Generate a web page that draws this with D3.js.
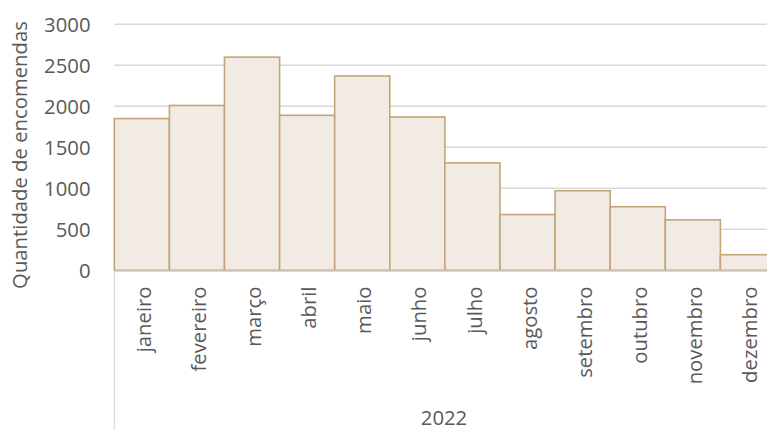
<!DOCTYPE html>
<html>
<head>
<meta charset="utf-8">
<script src="https://cdn.jsdelivr.net/npm/d3@7"></script>
<style>
  html, body { margin: 0; padding: 0; background: #fff; }
  svg { display: block; }
  text { font-family: "Open Sans", sans-serif; fill: #595959; }
</style>
</head>
<body>
<svg id="chart" width="767" height="430"></svg>
<script>
const categories = ["janeiro","fevereiro","março","abril","maio","junho","julho","agosto","setembro","outubro","novembro","dezembro"];
const values = [1850, 2010, 2600, 1890, 2370, 1870, 1310, 680, 970, 775, 615, 190];
const yTicks = [0, 500, 1000, 1500, 2000, 2500, 3000];
const groupLabel = "2022";
const yTitle = "Quantidade de encomendas";

(function () {
const svg = d3.select("#chart");
const pLeft = 114.3, pRight = 775.5, pTop = 24.3, pBottom = 270.3;
const fs = 20.3;

const x = d3.scaleBand().domain(categories).range([pLeft, pRight]).padding(0);
const y = d3.scaleLinear().domain([0, 3000]).range([pBottom, pTop]);

// gridlines
svg.append("g").selectAll("line").data(yTicks.filter(d => d > 0)).join("line")
  .attr("x1", pLeft).attr("x2", 767)
  .attr("y1", d => y(d)).attr("y2", d => y(d))
  .attr("stroke", "#d9d9d9").attr("stroke-width", 1.4);

// y tick labels
svg.append("g").selectAll("text").data(yTicks).join("text")
  .attr("x", 90.5).attr("y", d => y(d))
  .attr("dy", "0.36em")
  .attr("text-anchor", "end")
  .style("font-size", fs + "px")
  .text(d => d);

// bars
svg.append("g").selectAll("rect").data(categories).join("rect")
  .attr("x", d => x(d))
  .attr("y", (d, i) => y(values[i]))
  .attr("width", x.bandwidth())
  .attr("height", (d, i) => y(0) - y(values[i]))
  .attr("fill", "#f2ebe3")
  .attr("stroke", "#c4a57a")
  .attr("stroke-width", 1.6);

// axis baseline
svg.append("line")
  .attr("x1", pLeft).attr("x2", 767)
  .attr("y1", pBottom + 1).attr("y2", pBottom + 1)
  .attr("stroke", "#d9d9d9").attr("stroke-width", 1.4);

// left divider of multi-level axis
svg.append("line")
  .attr("x1", pLeft).attr("x2", pLeft)
  .attr("y1", pBottom + 1).attr("y2", 430)
  .attr("stroke", "#d9d9d9").attr("stroke-width", 1.2);

// month labels (rotated)
svg.append("g").selectAll("text").data(categories).join("text")
  .attr("transform", d => `translate(${x(d) + x.bandwidth() / 2 + 2},286.5) rotate(-90)`)
  .attr("dy", "0.35em")
  .attr("text-anchor", "end")
  .style("font-size", fs + "px")
  .text(d => d);

// group label
svg.append("text")
  .attr("x", 444).attr("y", 425)
  .attr("text-anchor", "middle")
  .style("font-size", fs + "px")
  .text(groupLabel);

// y axis title
svg.append("text")
  .attr("transform", "translate(27,155) rotate(-90)")
  .attr("text-anchor", "middle")
  .style("font-size", fs + "px")
  .text(yTitle);
})();
</script>
</body>
</html>
